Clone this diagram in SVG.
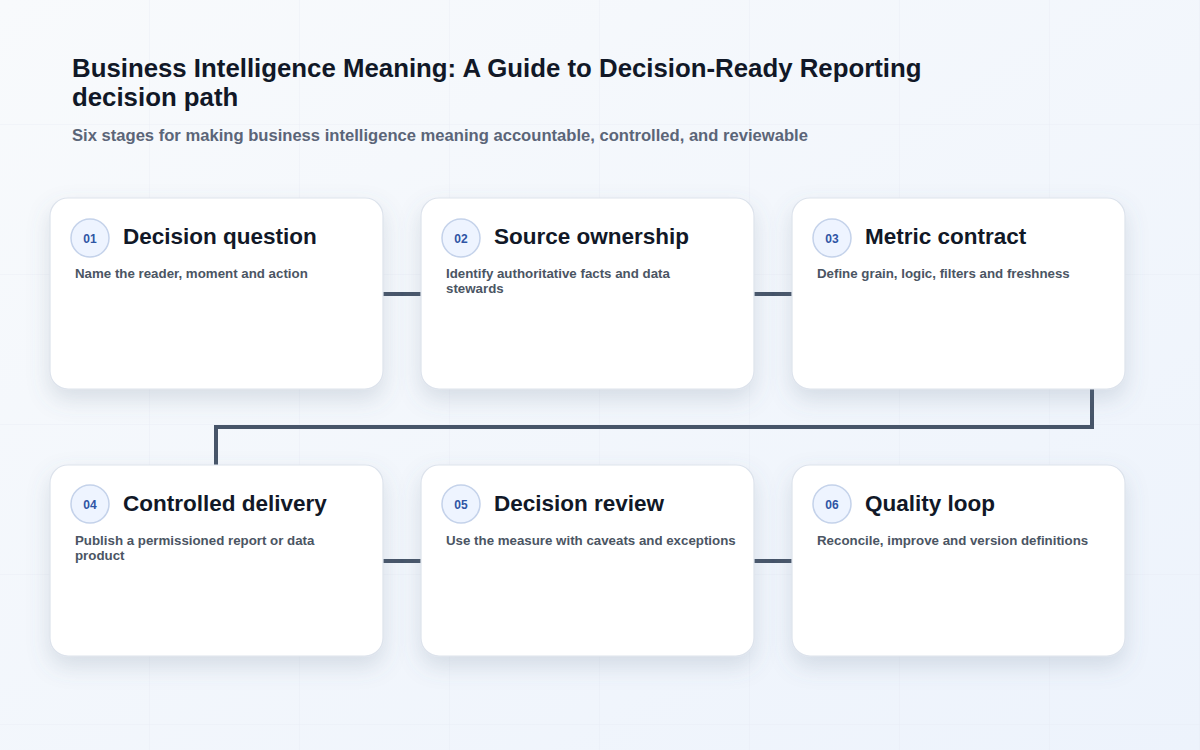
<svg xmlns="http://www.w3.org/2000/svg" width="1200" height="750" viewBox="0 0 1200 750">
  <defs>
    <linearGradient id="bg" x1="0" y1="0" x2="1" y2="1">
      <stop offset="0" stop-color="#f8fafc"/>
      <stop offset="1" stop-color="#edf3fc"/>
    </linearGradient>
    <pattern id="grid" width="150" height="150" patternUnits="userSpaceOnUse" x="0" y="-25">
      <path d="M150 0V150M0 150H150" fill="none" stroke="#e3e8f0" stroke-width="1" opacity="0.6"/>
    </pattern>
    <filter id="shadow" x="-20%" y="-20%" width="140%" height="160%">
      <feDropShadow dx="0" dy="10" stdDeviation="11" flood-color="#64748b" flood-opacity="0.2"/>
    </filter>
  </defs>
  <style>
    .card{fill:#ffffff;stroke:#dde3ec;stroke-width:1.2;filter:url(#shadow)}
    .badge{fill:#eef4ff;stroke:#c4d2ea;stroke-width:1.5}
    .num{font-family:"Liberation Sans",Arial,sans-serif;font-size:12px;font-weight:bold;fill:#2f55a4;text-anchor:middle}
    .ttl{font-family:"Liberation Sans",Arial,sans-serif;font-size:22.5px;font-weight:bold;fill:#111827}
    .desc{font-family:"Liberation Sans",Arial,sans-serif;font-size:13.3px;font-weight:bold;fill:#4b5563}
    .conn{fill:none;stroke:#475569;stroke-width:4}
    .h1{font-family:"Liberation Sans",Arial,sans-serif;font-size:25.8px;font-weight:bold;fill:#111827}
    .sub{font-family:"Liberation Sans",Arial,sans-serif;font-size:16.6px;font-weight:bold;fill:#5b6578}
  </style>
  <rect width="1200" height="750" fill="url(#bg)"/>
  <rect width="1200" height="750" fill="url(#grid)"/>

  <g id="header">
    <text class="h1" x="72" y="77">Business Intelligence Meaning: A Guide to Decision-Ready Reporting</text>
    <text class="h1" x="72" y="106">decision path</text>
    <text class="sub" x="72" y="141">Six stages for making business intelligence meaning accountable, controlled, and reviewable</text>
  </g>

  <g id="connectors">
    <path class="conn" d="M383 294H421"/>
    <path class="conn" d="M754 294H792"/>
    <path class="conn" d="M1092 389V427H216V465"/>
    <path class="conn" d="M383 561H421"/>
    <path class="conn" d="M754 561H792"/>
  </g>

  <g id="node-01">
    <rect class="card" x="50" y="198" width="333" height="191" rx="18"/>
    <circle class="badge" cx="90" cy="238" r="19"/>
    <text class="num" x="90" y="242.5">01</text>
    <text class="ttl" x="123" y="244">Decision question</text>
    <text class="desc" x="75" y="278">Name the reader, moment and action</text>
  </g>
  <g id="node-02">
    <rect class="card" x="421" y="198" width="333" height="191" rx="18"/>
    <circle class="badge" cx="461" cy="238" r="19"/>
    <text class="num" x="461" y="242.5">02</text>
    <text class="ttl" x="494" y="244">Source ownership</text>
    <text class="desc" x="446" y="278">Identify authoritative facts and data</text>
    <text class="desc" x="446" y="293">stewards</text>
  </g>
  <g id="node-03">
    <rect class="card" x="792" y="198" width="333" height="191" rx="18"/>
    <circle class="badge" cx="832" cy="238" r="19"/>
    <text class="num" x="832" y="242.5">03</text>
    <text class="ttl" x="865" y="244">Metric contract</text>
    <text class="desc" x="817" y="278">Define grain, logic, filters and freshness</text>
  </g>
  <g id="node-04">
    <rect class="card" x="50" y="465" width="333" height="191" rx="18"/>
    <circle class="badge" cx="90" cy="504" r="19"/>
    <text class="num" x="90" y="508.5">04</text>
    <text class="ttl" x="123" y="511">Controlled delivery</text>
    <text class="desc" x="75" y="545">Publish a permissioned report or data</text>
    <text class="desc" x="75" y="560">product</text>
  </g>
  <g id="node-05">
    <rect class="card" x="421" y="465" width="333" height="191" rx="18"/>
    <circle class="badge" cx="461" cy="504" r="19"/>
    <text class="num" x="461" y="508.5">05</text>
    <text class="ttl" x="494" y="511">Decision review</text>
    <text class="desc" x="446" y="545">Use the measure with caveats and exceptions</text>
  </g>
  <g id="node-06">
    <rect class="card" x="792" y="465" width="333" height="191" rx="18"/>
    <circle class="badge" cx="832" cy="504" r="19"/>
    <text class="num" x="832" y="508.5">06</text>
    <text class="ttl" x="865" y="511">Quality loop</text>
    <text class="desc" x="817" y="545">Reconcile, improve and version definitions</text>
  </g>
</svg>
